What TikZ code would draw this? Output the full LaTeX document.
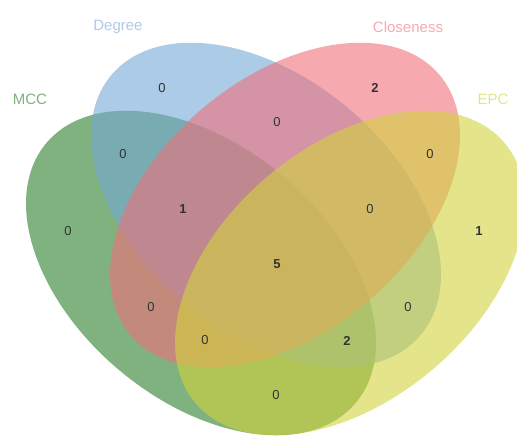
\documentclass[tikz,border=0pt]{standalone}
\usepackage{fontspec}
\setmainfont{Liberation Sans}

\definecolor{mccfill}{RGB}{42,127,40}
\definecolor{degfill}{RGB}{115,168,213}
\definecolor{clofill}{RGB}{240,113,123}
\definecolor{epcfill}{RGB}{210,210,60}
\definecolor{mcctext}{RGB}{127,178,126}
\definecolor{degtext}{RGB}{171,203,230}
\definecolor{clotext}{RGB}{246,170,176}
\definecolor{epctext}{RGB}{228,228,138}

\begin{document}
\begin{tikzpicture}[x=1pt, y=-1pt,
    setlabel/.style={font=\fontsize{15}{15}\selectfont},
    count/.style={font=\fontsize{13}{13}\selectfont, text=black!80},
    bigcount/.style={count, font=\fontsize{13}{13}\selectfont\bfseries}]
\useasboundingbox (0,0) rectangle (517,437);

% the four sets
\fill[mccfill, fill opacity=0.6, rotate around={-40:(201,273)}]
  (201,273) ellipse [x radius=202, y radius=127];
\fill[degfill, fill opacity=0.6, rotate around={-40:(266,205)}]
  (266,205) ellipse [x radius=202, y radius=127];
\fill[clofill, fill opacity=0.6, rotate around={40:(285,205)}]
  (285,205) ellipse [x radius=202, y radius=127];
\fill[epcfill, fill opacity=0.6, rotate around={40:(350,273)}]
  (350,273) ellipse [x radius=202, y radius=127];

% set names
\node[setlabel, text=degtext] (lab-deg) at (118,27) {Degree};
\node[setlabel, text=clotext] (lab-clo) at (408,27) {Closeness};
\node[setlabel, text=mcctext] (lab-mcc) at (30,99) {MCC};
\node[setlabel, text=epctext] (lab-epc) at (493,99) {EPC};

% counts
\node[count] (n-d) at (162,88) {0};
\node[bigcount] (n-c) at (375,88) {2};
\node[count] (n-m) at (68,231) {0};
\node[bigcount] (n-e) at (479,231) {1};
\node[count] (n-dc) at (277,122) {0};
\node[count] (n-md) at (123,154) {0};
\node[count] (n-ce) at (430,154) {0};
\node[bigcount] (n-mdc) at (183,209) {1};
\node[count] (n-dce) at (370,209) {0};
\node[bigcount] (n-all) at (277,264) {5};
\node[count] (n-mc) at (151,307) {0};
\node[count] (n-de) at (408,307) {0};
\node[count] (n-mce) at (205,340) {0};
\node[bigcount] (n-mde) at (347,341) {2};
\node[count] (n-me) at (276,395) {0};
\end{tikzpicture}
\end{document}
